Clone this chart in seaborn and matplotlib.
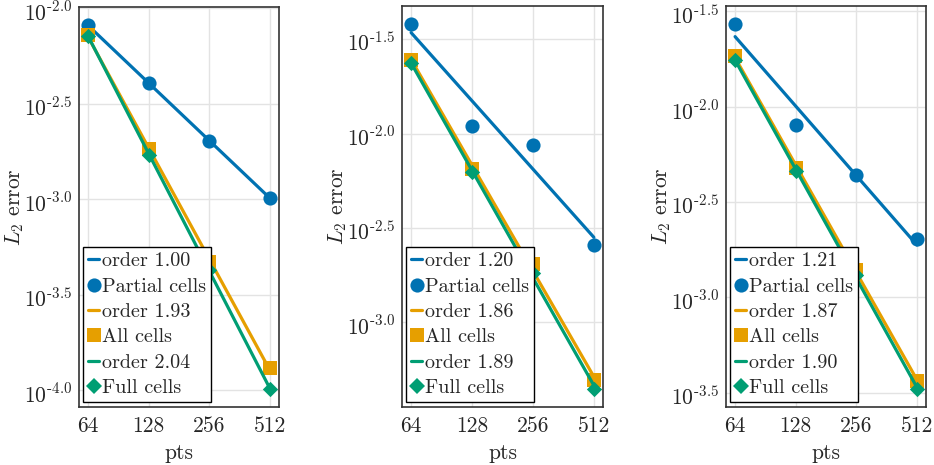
import numpy as np
import pandas as pd
import matplotlib
matplotlib.use("Agg")
import matplotlib.pyplot as plt
import matplotlib.transforms as mtransforms
from matplotlib.lines import Line2D
from matplotlib.ticker import FixedLocator, FixedFormatter, NullLocator
import seaborn as sns

# Grid resolutions
pts = [64, 128, 256, 512]

# L2 error for each of the three test cases
partial_1 = [8.13e-3, 4.06e-3, 2.02e-3, 1.01e-3]
all_1 = [7.23e-3, 1.83e-3, 4.68e-4, 1.31e-4]
full_1 = [7.10e-3, 1.71e-3, 4.29e-4, 1.02e-4]

partial_2 = [3.79e-2, 1.10e-2, 8.65e-3, 2.58e-3]
all_2 = [2.45e-2, 6.49e-3, 2.04e-3, 4.98e-4]
full_2 = [2.36e-2, 6.22e-3, 1.83e-3, 4.45e-4]

partial_3 = [2.71e-2, 8.00e-3, 4.39e-3, 2.03e-3]
all_3 = [1.85e-2, 4.80e-3, 1.39e-3, 3.64e-4]
full_3 = [1.76e-2, 4.60e-3, 1.31e-3, 3.32e-4]

# Convergence orders of the fitted lines
orders_1 = [1.00, 1.93, 2.04]
orders_2 = [1.20, 1.86, 1.89]
orders_3 = [1.21, 1.87, 1.90]

series_names = ["Partial cells", "All cells", "Full cells"]
colors = ["#0072B2", "#E69F00", "#009E73"]
markers = ["o", "s", "D"]
marker_sizes = [10.2, 9.6, 7.8]

panels = [
    ([partial_1, all_1, full_1], orders_1),
    ([partial_2, all_2, full_2], orders_2),
    ([partial_3, all_3, full_3], orders_3),
]

sns.set_style("white")
plt.rcParams["font.family"] = ["cmr10", "DejaVu Serif"]
plt.rcParams["mathtext.fontset"] = "cm"
plt.rcParams["axes.formatter.use_mathtext"] = True

FS = 15.5
FS_LEG = 14.5

W, H = 934, 465
fig = plt.figure(figsize=(W / 100, H / 100), dpi=100)

# axes boxes in pixels: left, top, right, bottom
boxes = [(79, 7, 279, 407), (402, 6, 603, 407), (726, 6, 926, 407)]

logx = np.log10(pts)
axes = []

for (errs, orders), (l, t, r, b) in zip(panels, boxes):
    ax = fig.add_axes([l / W, (H - b) / H, (r - l) / W, (b - t) / H])
    axes.append(ax)
    ax.set_xscale("log", base=2)
    ax.set_yscale("log")

    handles = []
    z = 3
    for name, err, p, c, m, ms in zip(series_names, errs, orders, colors, markers, marker_sizes):
        loge = np.log10(err)
        intercept = np.mean(loge + p * logx)
        fit = 10 ** (intercept - p * logx)
        df = pd.DataFrame({"pts": pts, "err": err, "fit": fit})
        sns.lineplot(data=df, x="pts", y="fit", color=c, lw=2.3, ax=ax,
                     legend=False, zorder=z)
        sns.scatterplot(data=df, x="pts", y="err", color=c, marker=m,
                        s=ms ** 2, linewidth=0, ax=ax, legend=False, zorder=z + 1)
        z += 2
        handles.append(Line2D([], [], color=c, lw=2.3, label=f"order {p:.2f}"))
        handles.append(Line2D([], [], color=c, marker=m, ls="none",
                              markersize=ms, markeredgewidth=0, label=name))

    # 5% margins in log space on both axes
    ly = np.log10(np.concatenate(errs))
    lo, hi = ly.min(), ly.max()
    pad = 0.05 * (hi - lo)
    ax.set_ylim(10 ** (lo - pad), 10 ** (hi + pad))
    lx = np.log2(pts)
    xpad = 0.05 * (lx.max() - lx.min())
    ax.set_xlim(2 ** (lx.min() - xpad), 2 ** (lx.max() + xpad))

    ks = np.arange(np.ceil((lo - pad) * 2), np.floor((hi + pad) * 2) + 1) / 2
    ax.yaxis.set_major_locator(FixedLocator(10 ** ks))
    ax.yaxis.set_major_formatter(
        FixedFormatter([r"$10^{\text{%.1f}}$" % k for k in ks]))
    ax.yaxis.set_minor_locator(NullLocator())
    ax.xaxis.set_major_locator(FixedLocator(pts))
    ax.xaxis.set_major_formatter(FixedFormatter([str(v) for v in pts]))
    ax.xaxis.set_minor_locator(NullLocator())

    ax.grid(True, color="#e3e3e3", lw=1, alpha=1)
    ax.set_axisbelow(True)
    for s in ax.spines.values():
        s.set_color("#333333")
        s.set_linewidth(1.2)
    ax.tick_params(axis="both", which="major", direction="out", length=2.5,
                   width=0.8, color="#555555", labelsize=FS)
    ax.tick_params(axis="x", pad=4.5)
    ax.tick_params(axis="y", pad=2.5)
    ax.set_xlabel("pts", fontsize=FS, labelpad=5)
    ax.set_ylabel(r"$L_2$ error", fontsize=FS)
    ax.yaxis.set_label_coords(-53 / (r - l), 0.5)

    leg = ax.legend(handles=handles, loc="lower left",
                    bbox_to_anchor=(4 / (r - l), 5 / (b - t)), borderaxespad=0,
                    fontsize=FS_LEG, handlelength=0.55, handletextpad=0.12,
                    labelspacing=0.36, borderpad=0.25, frameon=True,
                    fancybox=False, framealpha=1)
    leg.get_frame().set_edgecolor("black")
    leg.get_frame().set_linewidth(1.0)
    leg.set_zorder(20)

# nudge the y tick labels slightly below their ticks
fig.canvas.draw()
shift = mtransforms.ScaledTranslation(0, -2.5 / 100, fig.dpi_scale_trans)
for ax in axes:
    for tick in ax.yaxis.get_major_ticks():
        tick.label1.set_transform(tick.label1.get_transform() + shift)

fig.savefig("out.png", dpi=100)
